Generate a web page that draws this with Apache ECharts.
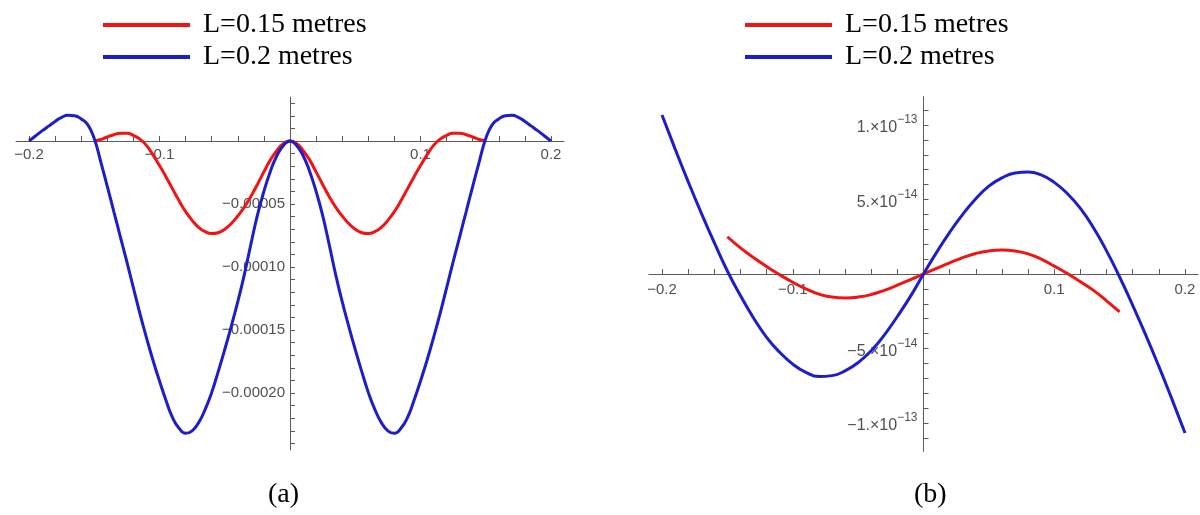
<!DOCTYPE html>
<html>
<head>
<meta charset="utf-8">
<title>Deflection profiles</title>
<script src="https://cdn.jsdelivr.net/npm/echarts@6/dist/echarts.min.js"></script>
<style>
  html, body { margin: 0; padding: 0; background: #fff; }
  #main { width: 1200px; height: 515px; }
</style>
</head>
<body>
<div id="main"></div>
<script>
// positions along the beam (metres), panel (a) is sampled more finely
const aXLong = [-0.200, -0.195, -0.190, -0.185, -0.180, -0.175, -0.170, -0.165, -0.160, -0.155,
  -0.150, -0.145, -0.140, -0.135, -0.130, -0.125, -0.120, -0.115, -0.110, -0.105,
  -0.100, -0.095, -0.090, -0.085, -0.080, -0.075, -0.070, -0.065, -0.060, -0.055,
  -0.050, -0.045, -0.040, -0.035, -0.030, -0.025, -0.020, -0.015, -0.010, -0.005, 0,
  0.005, 0.010, 0.015, 0.020, 0.025, 0.030, 0.035, 0.040, 0.045, 0.050,
  0.055, 0.060, 0.065, 0.070, 0.075, 0.080, 0.085, 0.090, 0.095, 0.100,
  0.105, 0.110, 0.115, 0.120, 0.125, 0.130, 0.135, 0.140, 0.145, 0.150,
  0.155, 0.160, 0.165, 0.170, 0.175, 0.180, 0.185, 0.190, 0.195, 0.200]
const aXShort = [-0.150, -0.145, -0.140, -0.135, -0.130, -0.125, -0.120, -0.115, -0.110, -0.105,
  -0.100, -0.095, -0.090, -0.085, -0.080, -0.075, -0.070, -0.065, -0.060, -0.055,
  -0.050, -0.045, -0.040, -0.035, -0.030, -0.025, -0.020, -0.015, -0.010, -0.005, 0,
  0.005, 0.010, 0.015, 0.020, 0.025, 0.030, 0.035, 0.040, 0.045, 0.050,
  0.055, 0.060, 0.065, 0.070, 0.075, 0.080, 0.085, 0.090, 0.095, 0.100,
  0.105, 0.110, 0.115, 0.120, 0.125, 0.130, 0.135, 0.140, 0.145, 0.150]
const bXLong = [-0.20, -0.19, -0.18, -0.17, -0.16, -0.15, -0.14, -0.13, -0.12, -0.11, -0.10,
  -0.09, -0.08, -0.07, -0.06, -0.05, -0.04, -0.03, -0.02, -0.01, 0,
  0.01, 0.02, 0.03, 0.04, 0.05, 0.06, 0.07, 0.08, 0.09, 0.10,
  0.11, 0.12, 0.13, 0.14, 0.15, 0.16, 0.17, 0.18, 0.19, 0.20]
const bXShort = [-0.15, -0.14, -0.13, -0.12, -0.11, -0.10, -0.09, -0.08, -0.07, -0.06, -0.05,
  -0.04, -0.03, -0.02, -0.01, 0, 0.01, 0.02, 0.03, 0.04, 0.05,
  0.06, 0.07, 0.08, 0.09, 0.10, 0.11, 0.12, 0.13, 0.14, 0.15]

// (a) values
const aShort = [0, 0.12e-5, 0.32e-5, 0.5e-5, 0.62e-5, 0.62e-5, 0.45e-5, 0.15e-5, -0.35e-5, -1.1e-5,
  -1.95e-5, -2.85e-5, -3.8e-5, -4.75e-5, -5.6e-5, -6.3e-5, -6.85e-5, -7.2e-5, -7.35e-5, -7.28e-5,
  -7.0e-5, -6.55e-5, -5.95e-5, -5.25e-5, -4.4e-5, -3.45e-5, -2.45e-5, -1.5e-5, -0.75e-5, -0.2e-5, 0,
  -0.2e-5, -0.75e-5, -1.5e-5, -2.45e-5, -3.45e-5, -4.4e-5, -5.25e-5, -5.95e-5, -6.55e-5, -7.0e-5,
  -7.28e-5, -7.35e-5, -7.2e-5, -6.85e-5, -6.3e-5, -5.6e-5, -4.75e-5, -3.8e-5, -2.85e-5, -1.95e-5,
  -1.1e-5, -0.35e-5, 0.15e-5, 0.45e-5, 0.62e-5, 0.62e-5, 0.5e-5, 0.32e-5, 0.12e-5, 0]
const aLong = [0, 0.4e-5, 0.8e-5, 1.18e-5, 1.55e-5, 1.88e-5, 2.04e-5, 2.0e-5, 1.75e-5, 1.3e-5,
  0.2e-5, -1.65e-5, -3.6e-5, -5.6e-5, -7.6e-5, -9.6e-5, -11.65e-5, -13.7e-5, -15.6e-5, -17.4e-5,
  -19.05e-5, -20.6e-5, -21.95e-5, -22.8e-5, -23.2e-5, -23.0e-5, -22.35e-5, -21.3e-5, -19.95e-5, -18.3e-5,
  -16.55e-5, -14.7e-5, -12.75e-5, -10.6e-5, -8.2e-5, -5.9e-5, -4.0e-5, -2.4e-5, -1.15e-5, -0.35e-5, 0,
  -0.35e-5, -1.15e-5, -2.4e-5, -4.0e-5, -5.9e-5, -8.2e-5, -10.6e-5, -12.75e-5, -14.7e-5, -16.55e-5,
  -18.3e-5, -19.95e-5, -21.3e-5, -22.35e-5, -23.0e-5, -23.2e-5, -22.8e-5, -21.95e-5, -20.6e-5, -19.05e-5,
  -17.4e-5, -15.6e-5, -13.7e-5, -11.65e-5, -9.6e-5, -7.6e-5, -5.6e-5, -3.6e-5, -1.65e-5, 0.2e-5,
  1.3e-5, 1.75e-5, 2.0e-5, 2.04e-5, 1.88e-5, 1.55e-5, 1.18e-5, 0.8e-5, 0.4e-5, 0]

// (b) values
const bShort = [2.5e-14, 1.75e-14, 1.1e-14, 5e-15, -5e-16, -5.5e-15, -1.0e-14, -1.35e-14, -1.55e-14, -1.61e-14, -1.55e-14,
  -1.38e-14, -1.1e-14, -7.5e-15, -3.8e-15, 0, 3.8e-15, 7.5e-15, 1.1e-14, 1.38e-14, 1.55e-14,
  1.61e-14, 1.55e-14, 1.35e-14, 1.0e-14, 5.3e-15, 3e-16, -5.2e-15, -1.1e-14, -1.8e-14, -2.55e-14]
const bLong = [1.067e-13, 8.4e-14, 6.2e-14, 4.1e-14, 2.1e-14, 2e-15, -1.45e-14, -2.95e-14, -4.25e-14, -5.25e-14, -6.05e-14,
  -6.6e-14, -6.88e-14, -6.82e-14, -6.5e-14, -5.95e-14, -5.15e-14, -4.1e-14, -2.85e-14, -1.5e-14, 0,
  1.45e-14, 2.8e-14, 4.0e-14, 5.05e-14, 5.9e-14, 6.45e-14, 6.78e-14, 6.85e-14, 6.65e-14, 6.15e-14,
  5.4e-14, 4.4e-14, 3.1e-14, 1.55e-14, -2e-15, -2.1e-14, -4.1e-14, -6.2e-14, -8.4e-14, -1.067e-13]

const seriesNames = ['L=0.15 metres', 'L=0.2 metres']

// tick labels
const xTickValues = [-0.2, -0.1, 0.1, 0.2]
const xTickLabels = ['\u22120.2', '\u22120.1', '0.1', '0.2']
const aYTickValues = [-0.00005, -0.0001, -0.00015, -0.0002]
const aYTickLabels = ['\u22120.00005', '\u22120.00010', '\u22120.00015', '\u22120.00020']
const bYTickValues = [-1e-13, -5e-14, 5e-14, 1e-13]
const bYMantissa = ['\u22121.\u00d710', '\u22125.\u00d710', '5.\u00d710', '1.\u00d710']
const bYExponent = ['\u221213', '\u221214', '\u221214', '\u221213']

const red = '#f01414'
const blue = '#1e1ec8'
const axisGrey = '#5c5c5c'
const labelGrey = '#505050'
const tickFont = 'Liberation Sans'
const serifFont = 'Liberation Serif'

function pairs(xs, ys) {
  return xs.map((x, i) => [x, ys[i]])
}

function pick(values, labels) {
  return function(v) {
    for (let i = 0; i < values.length; i++) {
      if (Math.abs(v - values[i]) < Math.abs(values[i]) * 1e-6) return labels[i]
    }
    return ''
  }
}

// axis that only carries the long axis line through zero
function lineAxis(grid, min, max) {
  return {
    type: 'value', gridIndex: grid, min: min, max: max,
    axisLine: { show: true, onZero: true, lineStyle: { color: axisGrey, width: 1 } },
    axisTick: { show: false },
    axisLabel: { show: false },
    splitLine: { show: false }
  }
}

// axis with ticks and labels, shifted onto the zero line with offset
function tickAxis(grid, min, max, interval, offset, label) {
  return {
    type: 'value', gridIndex: grid, min: min, max: max, interval: interval, offset: offset,
    axisLine: { show: false, onZero: false },
    axisTick: { show: true, inside: true, length: 5, lineStyle: { color: axisGrey } },
    axisLabel: Object.assign({ color: labelGrey, fontSize: 15, fontFamily: tickFont }, label),
    splitLine: { show: false }
  }
}

function legendAt(left) {
  return {
    left: left, top: 10, orient: 'vertical', padding: 0,
    icon: 'rect', itemWidth: 87, itemHeight: 4, itemGap: 2,
    data: seriesNames,
    textStyle: { fontFamily: serifFont, fontSize: 28, lineHeight: 30, color: '#000', padding: [0, 0, 0, 8] }
  }
}

function curve(name, color, xs, ys, axisIndex) {
  return {
    name: name, type: 'line', xAxisIndex: axisIndex, yAxisIndex: axisIndex,
    data: pairs(xs, ys), smooth: 0.5, symbol: 'none', clip: false,
    lineStyle: { color: color, width: 3 }, itemStyle: { color: color }
  }
}

const chart = echarts.init(document.getElementById('main'))

const bRich = bYTickValues.map((v, i) => '{m|' + bYMantissa[i] + '}{e|' + bYExponent[i] + '}')

const option = {
  animation: false,
  backgroundColor: '#fff',
  title: [
    { text: '(a)', left: 268, top: 481, padding: 0, textStyle: { fontFamily: serifFont, fontSize: 28, fontWeight: 'normal', color: '#000' } },
    { text: '(b)', left: 914, top: 481, padding: 0, textStyle: { fontFamily: serifFont, fontSize: 28, fontWeight: 'normal', color: '#000' } }
  ],
  legend: [legendAt(103), legendAt(745)],
  grid: [
    { left: 29, top: 103.2, width: 522, height: 340.2, outerBoundsMode: 'none', containLabel: false },
    { left: 16, top: 97.1, width: 548, height: 352.8, outerBoundsMode: 'none', containLabel: false },
    { left: 662, top: 110.1, width: 523, height: 327.8, outerBoundsMode: 'none', containLabel: false },
    { left: 648.9, top: 96.7, width: 549.2, height: 354.6, outerBoundsMode: 'none', containLabel: false }
  ],
  xAxis: [
    tickAxis(0, -0.2, 0.2, 0.02, -302.4, { formatter: pick(xTickValues, xTickLabels), margin: 6 }),
    lineAxis(1, -0.21, 0.21),
    tickAxis(2, -0.2, 0.2, 0.02, -163.9, { formatter: pick(xTickValues, xTickLabels), margin: 8 }),
    lineAxis(3, -0.21, 0.21)
  ],
  yAxis: [
    tickAxis(0, -0.00024, 0.00003, 0.00001, -261, { formatter: pick(aYTickValues, aYTickLabels), margin: 5 }),
    lineAxis(1, -0.000245, 0.000035),
    tickAxis(2, -1.1e-13, 1.1e-13, 1e-14, -261.5, {
      formatter: pick(bYTickValues, bRich), margin: 6,
      rich: {
        m: { fontSize: 16, color: labelGrey, fontFamily: tickFont, lineHeight: 22, verticalAlign: 'bottom' },
        e: { fontSize: 12, color: labelGrey, fontFamily: tickFont, lineHeight: 22, verticalAlign: 'top' }
      }
    }),
    lineAxis(3, -1.19e-13, 1.19e-13)
  ],
  series: [
    curve(seriesNames[0], red, aXShort, aShort, 0),
    curve(seriesNames[1], blue, aXLong, aLong, 0),
    curve(seriesNames[0], red, bXShort, bShort, 2),
    curve(seriesNames[1], blue, bXLong, bLong, 2)
  ]
}

chart.setOption(option)
</script>
</body>
</html>
